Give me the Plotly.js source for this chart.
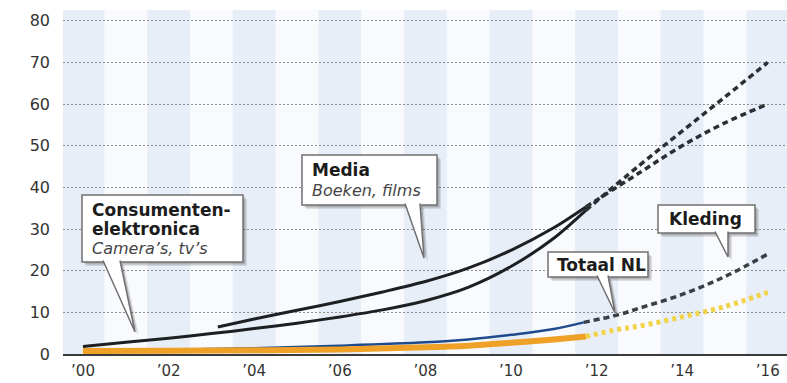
<!DOCTYPE html>
<html>
<head>
<meta charset="utf-8">
<script src="https://cdn.plot.ly/plotly-3.0.1.min.js"></script>
<style>
  html, body { margin: 0; padding: 0; background: #ffffff; }
  #chart { width: 787px; height: 383px; }
</style>
</head>
<body>
<div id="chart"></div>
<script>
// Online share of retail sales (%) by year, measured to 2011 and projected to 2016.
const yearTicks = [0, 2, 4, 6, 8, 10, 12, 14, 16];
const yearTickText = ["’00", "’02", "’04", "’06", "’08", "’10", "’12", "’14", "’16"];
const valueTicks = [0, 10, 20, 30, 40, 50, 60, 70, 80];

// Consumentenelektronica
const consYears = [0, 1, 2, 3, 4, 5, 6, 7, 8, 9, 10, 11, 11.75];
const consValues = [1.8, 2.8, 3.8, 4.9, 6.1, 7.4, 8.9, 10.6, 12.8, 16.0, 21.0, 27.8, 34.5];
const consForecastYears = [11.75, 13, 14, 15, 16];
const consForecastValues = [34.5, 45.3, 53.5, 61.7, 70];

// Media
const mediaYears = [3.15, 4, 5, 6, 7, 8, 9, 10, 11, 11.75];
const mediaValues = [6.5, 8.4, 10.5, 12.6, 14.9, 17.4, 20.6, 24.9, 30.3, 35.3];
const mediaForecastYears = [11.75, 13, 14, 15, 16];
const mediaForecastValues = [35.3, 43.5, 50, 55.5, 60];

// Kleding
const kledYears = [0, 2, 4, 6, 8, 9, 10, 11, 11.7];
const kledValues = [0.8, 1.0, 1.4, 2.0, 2.8, 3.5, 4.6, 6.0, 7.6];
const kledForecastYears = [11.7, 12.5, 13, 14, 15, 16];
const kledForecastValues = [7.6, 9.4, 11, 14.3, 18.6, 24];

// Totaal NL
const totYears = [0, 2, 4, 6, 8, 9, 10, 11, 11.75];
const totValues = [0.7, 0.8, 0.9, 1.1, 1.6, 2.0, 2.7, 3.5, 4.2];
const totForecastYears = [11.75, 12.5, 13, 14, 15, 16];
const totForecastValues = [4.2, 5.9, 6.7, 8.9, 11.4, 14.8];

// ---- layout geometry (pixels) ----
const W = 787, H = 383;
const M = { l: 63, r: 0, t: 10, b: 29 };
const PW = W - M.l - M.r, PH = H - M.t - M.b;
const px = v => (v - M.l) / PW;          // pixel x -> paper x
const py = v => (H - M.b - v) / PH;      // pixel y -> paper y

const FONT = "DejaVu Sans";

const traces = [
  { x: kledYears, y: kledValues, mode: "lines",
    line: { color: "#1f4a8c", width: 2.5, shape: "spline" } },
  { x: totYears, y: totValues, mode: "lines",
    line: { color: "#eea126", width: 6, shape: "spline" } },
  { x: totForecastYears, y: totForecastValues, mode: "lines",
    line: { color: "#f1d348", width: 5, dash: "4px,4px", shape: "spline" } },
  { x: kledForecastYears, y: kledForecastValues, mode: "lines",
    line: { color: "#3a3f45", width: 3.5, dash: "6px,4px", shape: "spline" } },
  { x: mediaForecastYears, y: mediaForecastValues, mode: "lines",
    line: { color: "#2b2f33", width: 3.5, dash: "6px,4px", shape: "spline" } },
  { x: consForecastYears, y: consForecastValues, mode: "lines",
    line: { color: "#2b2f33", width: 3.5, dash: "6px,4px", shape: "spline" } },
  { x: mediaYears, y: mediaValues, mode: "lines",
    line: { color: "#1e1f22", width: 3, shape: "spline", smoothing: 0.8 } },
  { x: consYears, y: consValues, mode: "lines",
    line: { color: "#1e1f22", width: 3, shape: "spline", smoothing: 0.8 } }
];

// alternating yearly background columns
const shapes = [];
for (let k = 0; k <= 8; k++) {
  shapes.push({
    type: "rect", layer: "below", xref: "x", yref: "paper",
    x0: 2 * k - 0.5, x1: 2 * k + 0.5, y0: 0, y1: 1,
    fillcolor: "#e7eef7", line: { width: 0 }
  });
}

// speech-bubble callouts: box, tail and text lines in pixel positions
const callouts = [
  { box: [82, 195, 243, 262], tail: [[103, 262], [120, 262], [135, 332]],
    lines: [
      { t: "Consumenten-", x: 90, y: 210, b: true },
      { t: "elektronica", x: 90, y: 229, b: true },
      { t: "Camera’s, tv’s", x: 90, y: 248, b: false }
    ] },
  { box: [302, 155, 437, 205], tail: [[405, 205], [420, 205], [424, 258]],
    lines: [
      { t: "Media", x: 310, y: 170, b: true },
      { t: "Boeken, films", x: 310, y: 190, b: false }
    ] },
  { box: [548, 252, 648, 277], tail: [[597, 277], [608, 277], [615, 313]],
    lines: [ { t: "Totaal NL", x: 555, y: 265, b: true } ] },
  { box: [658, 205, 755, 233], tail: [[715, 233], [728, 233], [728, 257]],
    lines: [ { t: "Kleding", x: 667, y: 219, b: true } ] }
];

const annotations = [];
callouts.forEach(c => {
  const [x0, y0, x1, y1] = c.box;
  const [a, b2, tip] = c.tail;
  // soft drop shadow
  [[4, 0.10], [2.5, 0.18]].forEach(([o, op]) => {
    shapes.push({ type: "rect", layer: "above", xref: "paper", yref: "paper",
      x0: px(x0 + o), x1: px(x1 + o), y0: py(y0 + o), y1: py(y1 + o),
      fillcolor: `rgba(0,0,0,${op})`, line: { width: 0 } });
    shapes.push({ type: "path", layer: "above", xref: "paper", yref: "paper",
      path: `M${px(a[0] + o)},${py(a[1] + o - 1)} L${px(tip[0] + o)},${py(tip[1] + o)} L${px(b2[0] + o)},${py(b2[1] + o - 1)} Z`,
      fillcolor: `rgba(0,0,0,${op})`, line: { width: 0 } });
  });
  shapes.push({ type: "rect", layer: "above", xref: "paper", yref: "paper",
    x0: px(x0), x1: px(x1), y0: py(y0), y1: py(y1),
    fillcolor: "#ffffff", line: { color: "#707070", width: 1.5 } });
  // tail: fill overlaps the bottom edge so the bubble reads as one outline
  shapes.push({ type: "path", layer: "above", xref: "paper", yref: "paper",
    path: `M${px(a[0])},${py(a[1] - 1.5)} L${px(tip[0])},${py(tip[1])} L${px(b2[0])},${py(b2[1] - 1.5)}`,
    fillcolor: "#ffffff", line: { color: "#707070", width: 1.5 } });
  c.lines.forEach(l => {
    annotations.push({
      xref: "paper", yref: "paper", x: px(l.x), y: py(l.y),
      xanchor: "left", yanchor: "middle", showarrow: false,
      text: l.b ? "<b>" + l.t + "</b>" : "<i>" + l.t + "</i>",
      font: { family: FONT, size: l.b ? 17 : 16, color: l.b ? "#1c1c1c" : "#454545" }
    });
  });
});

const layout = {
  width: W, height: H,
  margin: M,
  paper_bgcolor: "#ffffff",
  plot_bgcolor: "#f8fafd",
  showlegend: false,
  xaxis: {
    range: [-0.467, 16.45],
    tickvals: yearTicks, ticktext: yearTickText,
    showgrid: false, zeroline: false,
    showline: true, linecolor: "#3a3a3a", linewidth: 2,
    ticks: "", ticklabelstandoff: 2,
    tickfont: { family: FONT, size: 15, color: "#333333" },
    fixedrange: true
  },
  yaxis: {
    range: [0, 82.6],
    tickvals: valueTicks,
    showgrid: true, gridcolor: "#8e8e8e", gridwidth: 1, griddash: "2px,2px",
    zeroline: false, showline: false,
    ticks: "", ticklabelstandoff: 12,
    tickfont: { family: FONT, size: 16, color: "#333333" },
    fixedrange: true
  },
  shapes: shapes,
  annotations: annotations
};

Plotly.newPlot("chart", traces, layout, { staticPlot: true, displayModeBar: false });
</script>
</body>
</html>
